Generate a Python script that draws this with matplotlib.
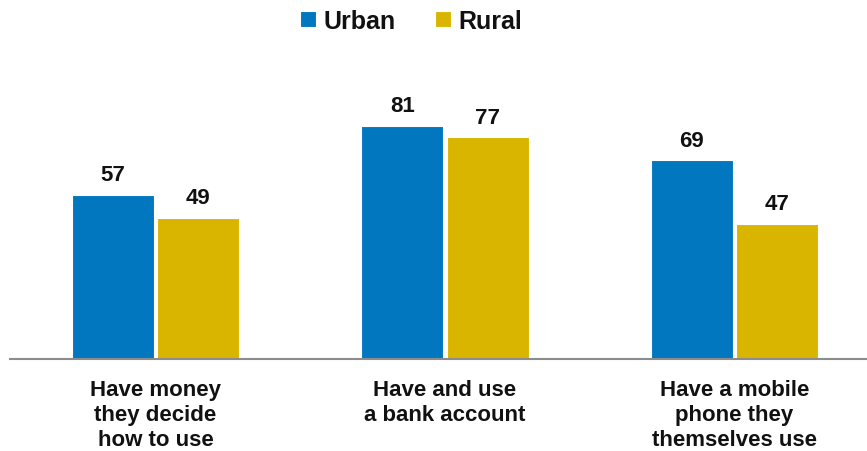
import matplotlib
matplotlib.use("Agg")
import matplotlib.pyplot as plt
import numpy as np

categories = ["Have money\nthey decide\nhow to use", "Have and use\na bank account", "Have a mobile\nphone they\nthemselves use"]
series_names = ["Urban", "Rural"]
urban = [57, 81, 69]
rural = [49, 77, 47]

colors = ["#0077BE", "#D9B500"]

plt.rcParams['font.family'] = ['Liberation Sans', 'DejaVu Sans']

W, H = 867, 452
fig = plt.figure(figsize=(W / 100, H / 100), dpi=100)
base_px = 360
left_px = 10
ax = fig.add_axes([left_px / W, 1 - base_px / H, 1 - left_px / W, 288 / H])

x = np.arange(len(categories))
bw = 0.283
off = 0.1475
b1 = ax.bar(x - off, urban, bw, color=colors[0], label=series_names[0], edgecolor='white', linewidth=0.8)
b2 = ax.bar(x + off, rural, bw, color=colors[1], label=series_names[1], edgecolor='white', linewidth=0.8)

for bars, vals in ((b1, urban), (b2, rural)):
    for r, v in zip(bars, vals):
        ax.annotate(f"{v}", (r.get_x() + r.get_width() / 2, r.get_height()),
                    xytext=(0, 7), textcoords='offset points', ha='center', va='bottom',
                    fontsize=16, fontweight='bold', color='#111111')

ax.set_xlim(-0.5026, 2.4577)
ax.set_ylim(0, 100)
ax.set_yticks([])
ax.set_xticks(x)
ax.set_xticklabels(categories, fontsize=16, fontweight='bold', color='#111111', linespacing=1.26)
ax.tick_params(axis='x', length=0, pad=14.5)
for s in ['top', 'right', 'left']:
    ax.spines[s].set_visible(False)
ax.spines['bottom'].set_color('#8c8c8c')
ax.spines['bottom'].set_linewidth(1.5)

leg = fig.legend(handles=[b1, b2], labels=series_names, loc='center', bbox_to_anchor=(411 / W, 1 - 22 / H),
                 ncol=2, frameon=False, prop={'size': 18, 'weight': 'bold'},
                 handlelength=0.62, handleheight=0.62, handletextpad=0.3, columnspacing=1.6)
for t in leg.get_texts():
    t.set_color('#111111')

fig.savefig("out.png", dpi=100)
